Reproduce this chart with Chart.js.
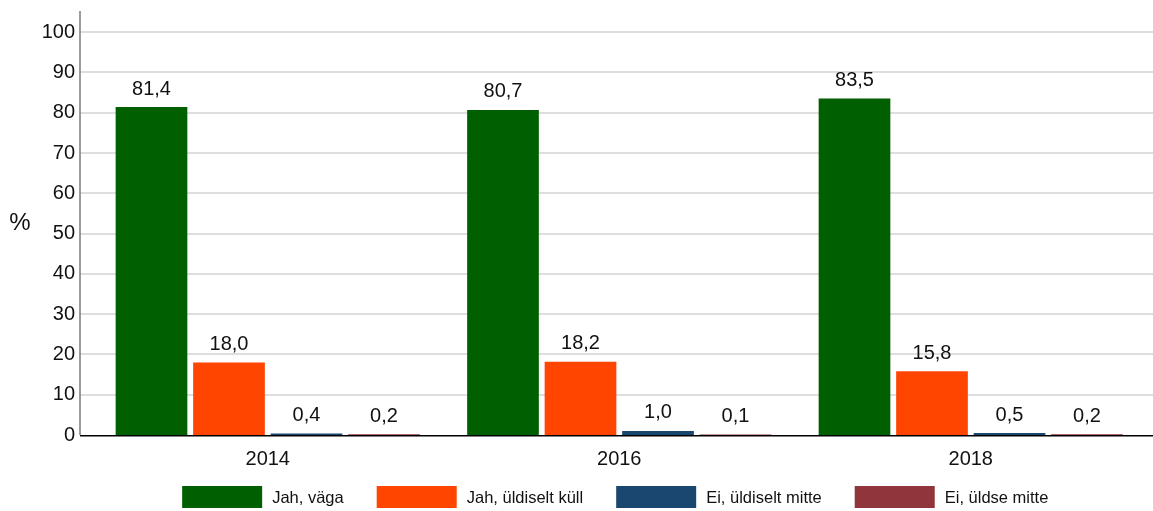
<!DOCTYPE html>
<html>
<head>
<meta charset="utf-8">
<script src="https://cdn.jsdelivr.net/npm/chart.js@4/dist/chart.umd.min.js"></script>
<style>
html,body{margin:0;padding:0;background:#fff;}
#wrap{width:1153px;height:511px;position:relative;}
</style>
</head>
<body>
<div id="wrap"><canvas id="c" width="1153" height="511"></canvas></div>
<script>
const categories = ['2014', '2016', '2018'];
const seriesNames = ['Jah, väga', 'Jah, üldiselt küll', 'Ei, üldiselt mitte', 'Ei, üldse mitte'];
const vaga = [81.4, 80.7, 83.5];
const uldiseltKull = [18.0, 18.2, 15.8];
const uldiseltMitte = [0.4, 1.0, 0.5];
const uldseMitte = [0.2, 0.1, 0.2];
const yTicks = [0, 10, 20, 30, 40, 50, 60, 70, 80, 90, 100];
const colors = ['#005f00', '#ff4500', '#1a476f', '#90353b'];

const FONT = '"Liberation Sans", Arial, sans-serif';

const decor = {
  id: 'decor',
  beforeDatasetsDraw(chart) {
    const ctx = chart.ctx, ca = chart.chartArea, y = chart.scales.y;
    const x0 = ca.left - 12;
    ctx.save();
    ctx.strokeStyle = '#dedede';
    ctx.lineWidth = 2;
    y.ticks.forEach(t => {
      if (t.value === 0) return;
      const py = Math.round(y.getPixelForValue(t.value)) ;
      ctx.beginPath(); ctx.moveTo(x0, py); ctx.lineTo(chart.width, py); ctx.stroke();
    });
    ctx.strokeStyle = '#7a7a7a';
    ctx.lineWidth = 1.5;
    ctx.beginPath(); ctx.moveTo(x0, ca.top - 1); ctx.lineTo(x0, y.getPixelForValue(0)); ctx.stroke();
    ctx.strokeStyle = '#000';
    ctx.lineWidth = 1.5;
    const p0 = y.getPixelForValue(0) + 0.75;
    ctx.beginPath(); ctx.moveTo(x0, p0); ctx.lineTo(chart.width, p0); ctx.stroke();
    // y title
    ctx.fillStyle = '#111';
    ctx.font = '24px ' + FONT;
    ctx.textAlign = 'center'; ctx.textBaseline = 'middle';
    ctx.fillText('%', 20, (ca.top + ca.bottom) / 2);
    ctx.restore();
  },
  afterDatasetsDraw(chart) {
    const ctx = chart.ctx;
    ctx.save();
    ctx.fillStyle = '#111';
    ctx.font = '20px ' + FONT;
    ctx.textAlign = 'center'; ctx.textBaseline = 'middle';
    chart.data.datasets.forEach((ds, i) => {
      const meta = chart.getDatasetMeta(i);
      meta.data.forEach((bar, j) => {
        const v = ds.data[j];
        ctx.fillText(v.toFixed(1).replace('.', ','), bar.x, bar.y - 18);
      });
    });
    // legend
    const ca = chart.chartArea;
    ctx.font = '16.5px ' + FONT;
    const boxW = 80, boxH = 22, gap = 10, spacing = 33;
    const widths = chart.data.datasets.map(ds => boxW + gap + ctx.measureText(ds.label).width);
    const total = widths.reduce((a, b) => a + b, 0) + spacing * (widths.length - 1);
    let x = (ca.left + ca.right) / 2 - 4 - total / 2;
    const cy = chart.height - 14;
    ctx.textAlign = 'left';
    chart.data.datasets.forEach((ds, i) => {
      ctx.fillStyle = ds.backgroundColor;
      ctx.fillRect(x, cy - boxH / 2, boxW, boxH);
      ctx.fillStyle = '#111';
      ctx.fillText(ds.label, x + boxW + gap, cy + 1);
      x += widths[i] + spacing;
    });
    ctx.restore();
  }
};

const values = [vaga, uldiseltKull, uldiseltMitte, uldseMitte];

new Chart(document.getElementById('c'), {
  type: 'bar',
  data: {
    labels: categories,
    datasets: seriesNames.map((n, i) => ({
      label: n,
      data: values[i],
      backgroundColor: colors[i],
      borderWidth: 0,
      categoryPercentage: 0.882,
      barPercentage: 0.925
    }))
  },
  options: {
    responsive: false,
    animation: false,
    layout: { padding: { top: 12, right: 6.5, bottom: 28, left: 0 } },
    plugins: { legend: { display: false }, tooltip: { enabled: false } },
    scales: {
      x: {
        grid: { display: false, drawTicks: false },
        border: { display: false },
        ticks: { color: '#111', font: { size: 20, family: FONT }, padding: 12 }
      },
      y: {
        min: 0, max: 105,
        afterBuildTicks(scale) { scale.ticks = yTicks.map(v => ({ value: v })); },
        afterFit(scale) { scale.width = 92; scale.paddingTop = 0; scale.paddingBottom = 0; },
        grid: { display: false, drawTicks: false },
        border: { display: false },
        ticks: { color: '#111', font: { size: 20, family: FONT }, padding: 17 }
      }
    }
  },
  plugins: [decor]
});
</script>
</body>
</html>
